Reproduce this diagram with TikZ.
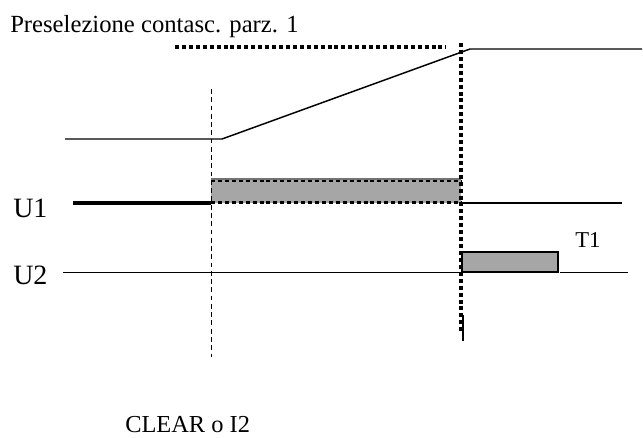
\documentclass[tikz,border=0pt]{standalone}
\usepackage{fontspec}
\setmainfont{Liberation Serif}
\begin{document}
\begin{tikzpicture}[x=0.75pt,y=-0.75pt,
  sig/.style={line width=1.1pt,black},
  thicksig/.style={line width=2.5pt,black},
  bigdot/.style={line width=2.4pt,dash pattern=on 3pt off 2.2pt},
  smalldot/.style={line width=1.6pt,dash pattern=on 3pt off 2.2pt},
  thindash/.style={line width=0.7pt,dash pattern=on 3.6pt off 2.6pt},
  lbl/.style={anchor=base west,inner sep=0pt}]
\useasboundingbox (0,0) rectangle (643,437);
% labels
\node[lbl,font=\fontsize{18.5}{20}\selectfont] (title) at (10,32) {Preselezione contasc. parz. 1};
\node[lbl,font=\fontsize{21}{23}\selectfont] (u1) at (13,217) {U1};
\node[lbl,font=\fontsize{21}{23}\selectfont] (u2) at (13,284) {U2};
\node[lbl,font=\fontsize{17}{19}\selectfont] (t1) at (575,247) {T1};
\node[lbl,font=\fontsize{18.3}{20}\selectfont] (clr) at (125,432) {CLEAR o I2};
% coordinates
\coordinate (r0) at (65,139);
\coordinate (r1) at (222,139);
\coordinate (r2) at (470,49);
\coordinate (r3) at (642,49);
\coordinate (h0) at (175,47);
\coordinate (h1) at (446,47);
\coordinate (v0) at (461,43);
\coordinate (v1) at (461,332);
\coordinate (d0) at (211,89);
\coordinate (d1) at (211,357);
\coordinate (s0) at (463,315);
\coordinate (s1) at (463,341);
% ramp signal
\draw[sig] (r0) -- (r1) -- (r2) -- (r3);
% U1
\fill[black!35] (211,179) rectangle (461,203);
\draw[line width=1pt,black!55] (211,179) -- (461,179);
\draw[smalldot] (211,181) -- (461,181);
\draw[smalldot] (211,202.5) -- (461,202.5);
\coordinate (a0) at (73,203);
\coordinate (a1) at (211,203);
\coordinate (a2) at (462,203);
\coordinate (a3) at (622,203);
\draw[thicksig] (a0) -- (a1);
\draw[sig] (a2) -- (a3);
% U2
\coordinate (b0) at (63,272.5);
\coordinate (b1) at (470,272.5);
\coordinate (b2) at (560,272.5);
\coordinate (b3) at (628,272.5);
\draw[sig] (b0) -- (b1);
\draw[sig] (b2) -- (b3);
\draw[sig,fill=black!35] (462,252) rectangle (558,272);
% markers
\draw[thindash] (d0) -- (d1);
\draw[bigdot] (h0) -- (h1);
\draw[bigdot] (v0) -- (v1);
\draw[line width=1pt] (s0) -- (s1);
\end{tikzpicture}
\end{document}
